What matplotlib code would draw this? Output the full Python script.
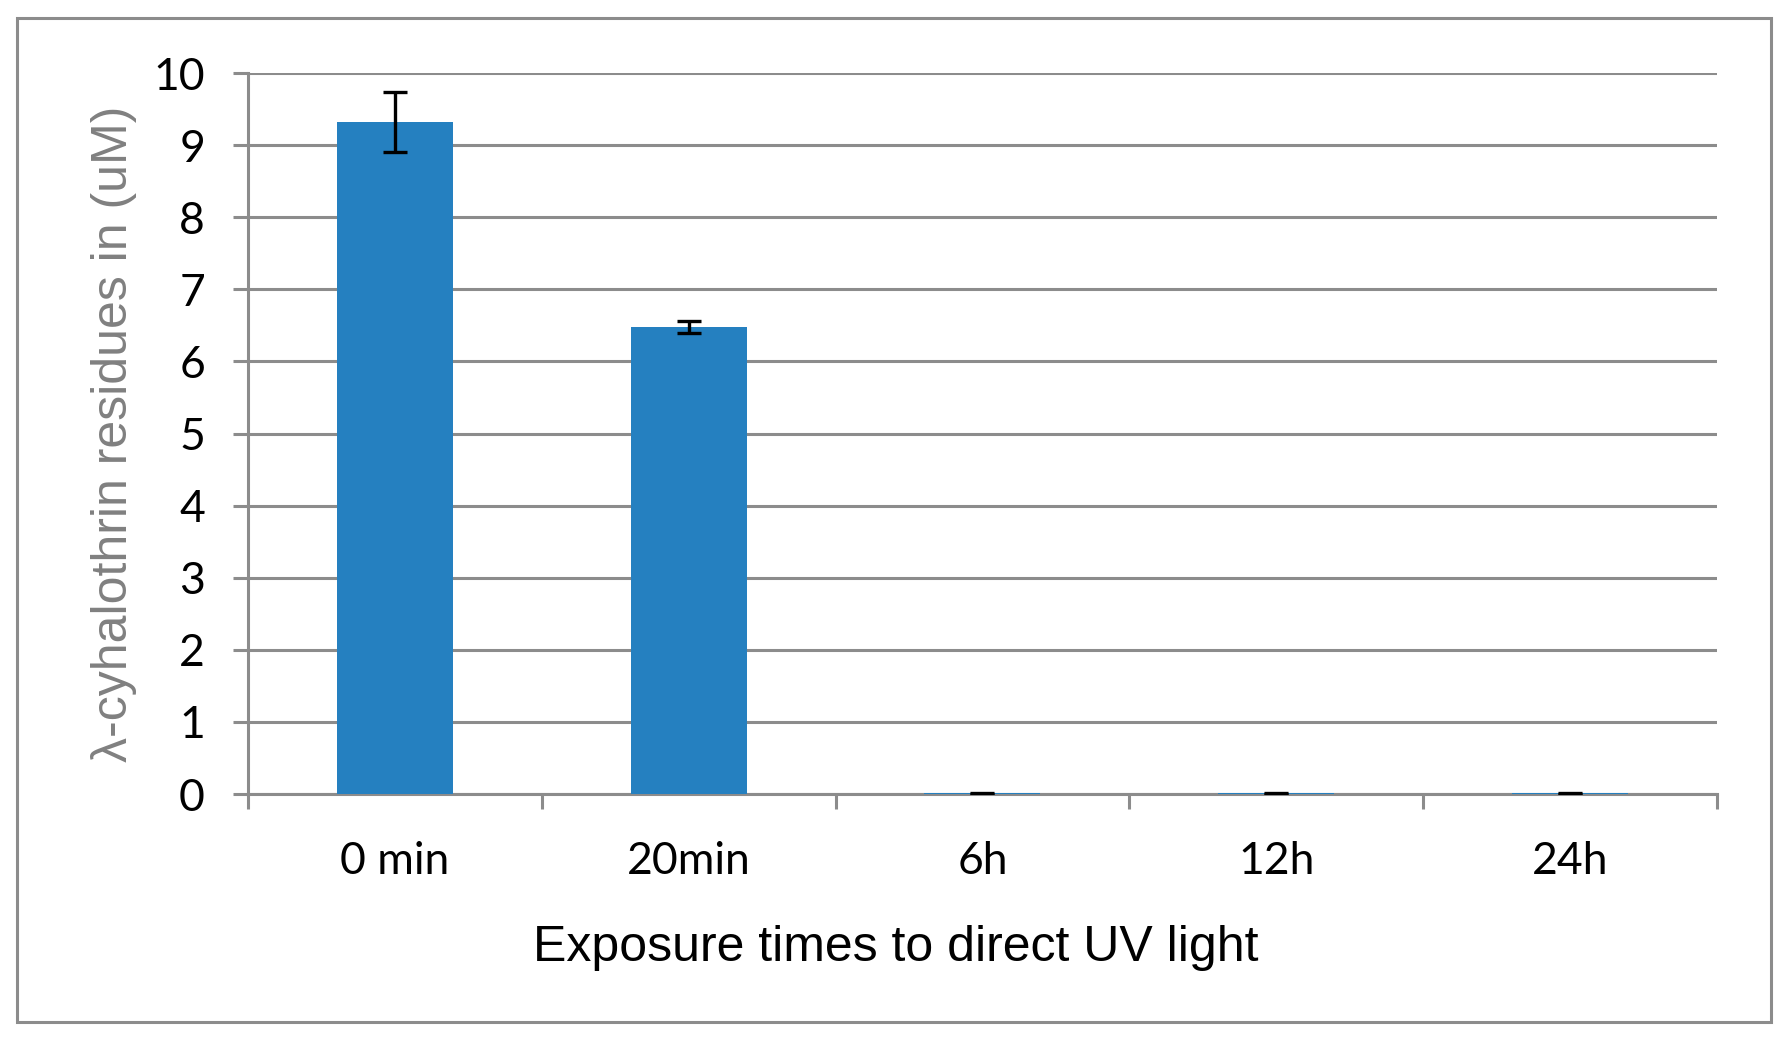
import matplotlib.pyplot as plt
import matplotlib.patches as patches
import numpy as np

# ------------ DATA ------------
times = ["0 min", "20min", "6h", "12h", "24h"]
residues = [9.32, 6.48, 0.01, 0.01, 0.01]   # uM
errors = [0.41, 0.08, 0.01, 0.01, 0.01]

# ------------ STYLE ------------
BAR_COLOR = "#2580c0"
GRID_COLOR = "#8c8c8c"

fig = plt.figure(figsize=(17.92, 10.43), dpi=100)
ax = fig.add_axes([0.1384, 0.2387, 0.9581 - 0.1384, 0.930 - 0.2387])

x = np.arange(len(times))
ax.bar(x, residues, width=0.395, color=BAR_COLOR, zorder=3)
ax.errorbar(x, residues, yerr=errors, fmt="none", ecolor="black",
            elinewidth=2.4, capsize=8.5, capthick=2.4, zorder=4)

ax.set_xlim(-0.5, len(times) - 0.5)
ax.set_ylim(0, 10)
ax.set_yticks(range(0, 11))
ax.grid(axis="y", color=GRID_COLOR, linewidth=2.2, zorder=0)

# category labels at centers, tick marks at boundaries
ax.set_xticks(x)
ax.set_xticklabels(times)
ax.set_xticks(np.arange(-0.5, len(times), 1.0), minor=True)
ax.tick_params(axis="x", which="major", length=0, pad=34, labelsize=32)
ax.tick_params(axis="x", which="minor", length=11, width=2.2, color=GRID_COLOR)
ax.tick_params(axis="y", length=11, width=2.2, color=GRID_COLOR, pad=20, labelsize=32)
for lab in ax.get_xticklabels() + ax.get_yticklabels():
    lab.set_fontfamily("Lato")

for side in ["top", "right"]:
    ax.spines[side].set_visible(False)
for side in ["left", "bottom"]:
    ax.spines[side].set_color(GRID_COLOR)
    ax.spines[side].set_linewidth(2.2)

# axis titles, placed like the original (x title centred on the whole figure)
fig.text(0.5, 0.091, "Exposure times to direct UV light", fontsize=36,
         fontfamily="Liberation Sans", ha="center", va="center")
fig.text(0.0636, 0.5845, "λ-cyhalothrin residues in (uM)", fontsize=36,
         color="#808080", fontfamily="Liberation Sans", rotation=90,
         ha="center", va="center")

# outer chart border
fig.patches.append(patches.Rectangle((17 / 1792, 1 - 1022 / 1043),
                                     (1771 - 17) / 1792, (1022 - 18) / 1043,
                                     transform=fig.transFigure, fill=False,
                                     edgecolor=GRID_COLOR, linewidth=2.2))

plt.savefig("out.png", dpi=100)
